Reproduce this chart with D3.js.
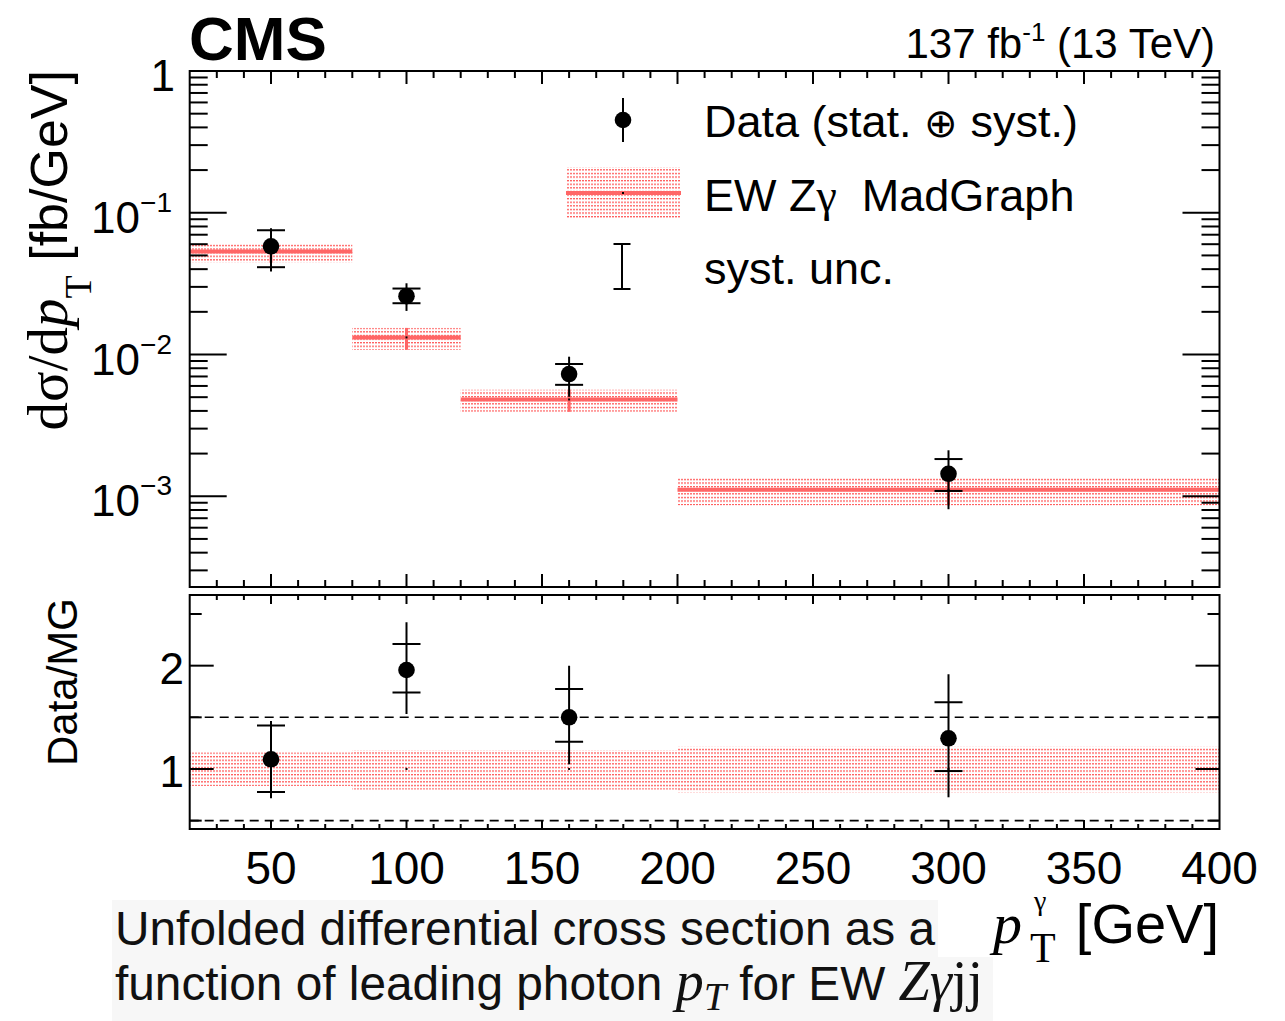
<!DOCTYPE html>
<html><head><meta charset="utf-8">
<script src="https://cdn.jsdelivr.net/npm/d3@7"></script>
<style>body{margin:0;background:#fff}</style>
</head><body>
<script>
// ---------------- data ----------------
const binEdges   = [20, 80, 120, 200, 400];
const binCenters = [50, 100, 160, 300];
const xTickLabels = [50, 100, 150, 200, 250, 300, 350, 400];
const yTickLabels = [{v:1, base:"1", exp:""}, {v:0.1, base:"10", exp:"−1"}, {v:0.01, base:"10", exp:"−2"}, {v:0.001, base:"10", exp:"−3"}];
const ratioTickLabels = [1, 2];

// measured cross section (fb/GeV)
const dataXsec   = [0.0580, 0.0258, 0.00728, 0.00144];
const dataTotUp  = [0.0776, 0.0318, 0.00965, 0.00211];
const dataTotDn  = [0.0385, 0.0203, 0.00503, 0.00081];
const dataSystUp = [0.0753, 0.0292, 0.00857, 0.00183];
const dataSystDn = [0.0413, 0.0230, 0.00611, 0.00109];
// MadGraph prediction
const mgXsec = [0.0533, 0.0132, 0.00482, 0.00111];
const mgUp   = [0.0601, 0.0154, 0.00564, 0.00135];
const mgDn   = [0.0444, 0.0108, 0.00394, 0.000863];
// ratio Data/MG
const ratio       = [1.094, 1.958, 1.500, 1.297];
const ratioTotUp  = [1.465, 2.420, 2.000, 1.917];
const ratioTotDn  = [0.716, 1.532, 1.045, 0.726];
const ratioSystUp = [1.420, 2.210, 1.775, 1.646];
const ratioSystDn = [0.777, 1.740, 1.264, 0.980];
const ratioBandUp = [1.160, 1.180, 1.180, 1.215];
const ratioBandDn = [0.835, 0.800, 0.800, 0.775];

// ---------------- setup ----------------
const W = 1285, H = 1021;
const sans = "'Liberation Sans', Arial, Helvetica, sans-serif";
const serif = "'Liberation Serif', 'Times New Roman', serif";
const RED = "#ff6666";
const svg = d3.select("body").append("svg").attr("width", W).attr("height", H)
  .style("font-family", sans);

const L = 189.7, R = 1219.5;
const T1 = 71, B1 = 587, T2 = 595, B2 = 829;
const x  = d3.scaleLinear().domain([20, 400]).range([L, R]);
const y  = d3.scaleLog().domain([2.29e-4, 1]).range([B1, T1]);
const yr = d3.scaleLinear().domain([0.419, 2.684]).range([B2, T2]);

const defs = svg.append("defs");
const pat = defs.append("pattern").attr("id", "dots").attr("patternUnits", "userSpaceOnUse")
  .attr("width", 3).attr("height", 3.6);
pat.append("rect").attr("x", 0).attr("y", 0).attr("width", 2).attr("height", 1.3).attr("fill", "#ff5c5c");
defs.append("clipPath").attr("id", "clipTop").append("rect").attr("x", L).attr("y", T1).attr("width", R - L).attr("height", B1 - T1);
defs.append("clipPath").attr("id", "clipBot").append("rect").attr("x", L).attr("y", T2).attr("width", R - L).attr("height", B2 - T2);

const idx = d3.range(binCenters.length);

// ---------------- top panel ----------------
const topG = svg.append("g").attr("clip-path", "url(#clipTop)");
topG.selectAll("rect.band").data(idx).join("rect")
  .attr("x", i => x(binEdges[i])).attr("width", i => x(binEdges[i + 1]) - x(binEdges[i]))
  .attr("y", i => y(mgUp[i])).attr("height", i => y(mgDn[i]) - y(mgUp[i]))
  .attr("fill", "url(#dots)");
topG.selectAll("line.mg").data(idx).join("line")
  .attr("x1", i => x(binEdges[i])).attr("x2", i => x(binEdges[i + 1]))
  .attr("y1", i => y(mgXsec[i])).attr("y2", i => y(mgXsec[i]))
  .attr("stroke", RED).attr("stroke-width", 4);
topG.selectAll("line.mgerr").data(idx).join("line")
  .attr("x1", i => x(binCenters[i])).attr("x2", i => x(binCenters[i]))
  .attr("y1", i => y(mgUp[i])).attr("y2", i => y(mgDn[i]))
  .attr("stroke", RED).attr("stroke-width", 3);
topG.selectAll("rect.mgc").data(idx).join("rect")
  .attr("x", i => x(binCenters[i]) - 1).attr("y", i => y(mgXsec[i]) - 1)
  .attr("width", 2).attr("height", 2).attr("fill", "#000");

function drawPoints(g, scale, val, tUp, tDn, sUp, sDn) {
  g.selectAll("line.tot").data(idx).join("line")
    .attr("x1", i => x(binCenters[i])).attr("x2", i => x(binCenters[i]))
    .attr("y1", i => scale(tUp[i])).attr("y2", i => scale(tDn[i]))
    .attr("stroke", "#000").attr("stroke-width", 2);
  [sUp, sDn].forEach(arr => {
    g.append("g").selectAll("line").data(idx).join("line")
      .attr("x1", i => x(binCenters[i]) - 14).attr("x2", i => x(binCenters[i]) + 14)
      .attr("y1", i => scale(arr[i])).attr("y2", i => scale(arr[i]))
      .attr("stroke", "#000").attr("stroke-width", 2);
  });
  g.selectAll("circle.pt").data(idx).join("circle")
    .attr("cx", i => x(binCenters[i])).attr("cy", i => scale(val[i])).attr("r", 8.3)
    .attr("fill", "#000");
}
drawPoints(svg.append("g").attr("clip-path", "url(#clipTop)"), y, dataXsec, dataTotUp, dataTotDn, dataSystUp, dataSystDn);

// ---------------- bottom panel ----------------
const botG = svg.append("g").attr("clip-path", "url(#clipBot)");
botG.selectAll("rect.band").data(idx).join("rect")
  .attr("x", i => x(binEdges[i])).attr("width", i => x(binEdges[i + 1]) - x(binEdges[i]))
  .attr("y", i => yr(ratioBandUp[i])).attr("height", i => yr(ratioBandDn[i]) - yr(ratioBandUp[i]))
  .attr("fill", "url(#dots)");
[0.5, 1.5].forEach(v => {
  botG.append("line").attr("x1", L).attr("x2", R).attr("y1", yr(v)).attr("y2", yr(v))
    .attr("stroke", "#000").attr("stroke-width", 1.6).attr("stroke-dasharray", "9,6");
});
botG.append("g").selectAll("rect").data(idx).join("rect")
  .attr("x", i => x(binCenters[i]) - 1).attr("y", yr(1) - 1).attr("width", 2).attr("height", 2).attr("fill", "#000");
drawPoints(botG.append("g"), yr, ratio, ratioTotUp, ratioTotDn, ratioSystUp, ratioSystDn);

// ---------------- frames and ticks ----------------
const axes = svg.append("g").attr("stroke", "#000").attr("stroke-width", 2).attr("fill", "none");
axes.append("rect").attr("x", L).attr("y", T1).attr("width", R - L).attr("height", B1 - T1);
axes.append("rect").attr("x", L).attr("y", T2).attr("width", R - L).attr("height", B2 - T2);

const xt = d3.range(30, 400, 10);
function xTicks(yTop, yBot, maj, min) {
  xt.forEach(v => {
    const len = v % 50 === 0 ? maj : min;
    axes.append("line").attr("x1", x(v)).attr("x2", x(v)).attr("y1", yBot).attr("y2", yBot - len);
    axes.append("line").attr("x1", x(v)).attr("x2", x(v)).attr("y1", yTop).attr("y2", yTop + len);
  });
}
xTicks(T1, B1, 13, 7);
xTicks(T2, B2, 9, 5);

const logTicks = [];
for (let d = -4; d <= 0; d++) for (let m = 1; m <= 9; m++) {
  const v = m * Math.pow(10, d);
  if (v >= 2.29e-4 && v < 1) logTicks.push({v, major: m === 1});
}
logTicks.forEach(t => {
  const len = t.major ? 37 : 18;
  axes.append("line").attr("x1", L).attr("x2", L + len).attr("y1", y(t.v)).attr("y2", y(t.v));
  axes.append("line").attr("x1", R).attr("x2", R - len).attr("y1", y(t.v)).attr("y2", y(t.v));
});
[0.5, 1, 1.5, 2, 2.5].forEach(v => {
  const len = Number.isInteger(v) ? 24 : 12;
  axes.append("line").attr("x1", L).attr("x2", L + len).attr("y1", yr(v)).attr("y2", yr(v));
  axes.append("line").attr("x1", R).attr("x2", R - len).attr("y1", yr(v)).attr("y2", yr(v));
});

// ---------------- labels ----------------
svg.append("g").selectAll("text").data(xTickLabels).join("text")
  .attr("x", d => x(d)).attr("y", 884).attr("text-anchor", "middle")
  .attr("font-size", 46).text(d => d);

yTickLabels.forEach(t => {
  const tx = svg.append("text").attr("x", t.exp ? 172 : 175).attr("y", y(t.v) + 20)
    .attr("text-anchor", "end").attr("font-size", 44);
  tx.append("tspan").text(t.base);
  if (t.exp) tx.append("tspan").attr("font-size", 28).attr("dy", -21).text(t.exp);
});
svg.append("g").selectAll("text").data(ratioTickLabels).join("text")
  .attr("x", 184).attr("y", d => yr(d) + 18).attr("text-anchor", "end")
  .attr("font-size", 44).text(d => d);

// CMS and lumi
svg.append("text").attr("x", 189).attr("y", 60).attr("font-size", 62).attr("font-weight", "bold").text("CMS");
const lumi = svg.append("text").attr("x", 1215).attr("y", 58).attr("text-anchor", "end").attr("font-size", 42);
lumi.append("tspan").text("137 fb");
lumi.append("tspan").attr("font-size", 26).attr("dy", -17).text("-1");
lumi.append("tspan").attr("dy", 17).text(" (13 TeV)");

// y titles
const yt = svg.append("text").attr("transform", "translate(67,70) rotate(-90)").attr("text-anchor", "end");
yt.append("tspan").attr("font-family", serif).attr("font-size", 57).text("dσ/d");
yt.append("tspan").attr("font-family", serif).attr("font-style", "italic").attr("font-size", 57).text("p");
yt.append("tspan").attr("font-family", serif).attr("font-size", 38).attr("dy", 24).text("T");
yt.append("tspan").attr("font-size", 52).attr("dy", -24).text(" [fb/GeV]");

svg.append("text").attr("transform", "translate(77,682) rotate(-90)").attr("text-anchor", "middle")
  .attr("font-size", 42).text("Data/MG");

// x title
svg.append("text").attr("x", 993).attr("y", 943).attr("font-family", serif).attr("font-style", "italic").attr("font-size", 58).text("p");
svg.append("text").attr("x", 1030).attr("y", 962).attr("font-family", serif).attr("font-size", 42).text("T");
svg.append("text").attr("x", 1034).attr("y", 910).attr("font-family", serif).attr("font-size", 28).text("γ");
svg.append("text").attr("x", 1219).attr("y", 943).attr("text-anchor", "end").attr("font-size", 56).text("[GeV]");

// ---------------- legend ----------------
const lg = svg.append("g");
lg.append("line").attr("x1", 623).attr("x2", 623).attr("y1", 98).attr("y2", 142).attr("stroke", "#000").attr("stroke-width", 2);
lg.append("circle").attr("cx", 623).attr("cy", 120).attr("r", 8.3).attr("fill", "#000");
lg.append("rect").attr("x", 566).attr("y", 167).attr("width", 115).attr("height", 52).attr("fill", "url(#dots)");
lg.append("line").attr("x1", 566).attr("x2", 681).attr("y1", 193).attr("y2", 193).attr("stroke", RED).attr("stroke-width", 4);
lg.append("rect").attr("x", 622).attr("y", 192).attr("width", 2).attr("height", 2).attr("fill", "#000");
lg.append("line").attr("x1", 622).attr("x2", 622).attr("y1", 244).attr("y2", 289).attr("stroke", "#000").attr("stroke-width", 2);
lg.append("rect").attr("x", 621).attr("y", 266).attr("width", 2).attr("height", 2).attr("fill", "#000");
[244, 289].forEach(v => lg.append("line").attr("x1", 613.5).attr("x2", 630.5).attr("y1", v).attr("y2", v).attr("stroke", "#000").attr("stroke-width", 2));

const t1 = lg.append("text").attr("x", 704).attr("y", 137).attr("font-size", 45);
t1.append("tspan").text("Data (stat. ");
t1.append("tspan").attr("font-family", "'DejaVu Sans', sans-serif").attr("font-weight", 200).attr("font-size", 40).text("⊕");
t1.append("tspan").text(" syst.)");
const t2 = lg.append("text").attr("x", 704).attr("y", 210.5).attr("font-size", 45).style("white-space", "pre");
t2.append("tspan").text("EW Z");
t2.append("tspan").attr("font-family", serif).attr("font-size", 46).text("γ");
t2.append("tspan").text("  MadGraph");
lg.append("text").attr("x", 704).attr("y", 284).attr("font-size", 45).text("syst. unc.");

// ---------------- caption ----------------
svg.append("rect").attr("x", 112).attr("y", 900).attr("width", 826).attr("height", 57).attr("fill", "#f7f7f7");
svg.append("rect").attr("x", 112).attr("y", 957).attr("width", 881).attr("height", 64).attr("fill", "#f7f7f7");
svg.append("text").attr("x", 115).attr("y", 945).attr("font-size", 47.8).attr("fill", "#111")
  .text("Unfolded differential cross section as a");
const c2 = svg.append("text").attr("x", 115).attr("y", 1000).attr("font-size", 47.8).attr("fill", "#111");
c2.append("tspan").text("function of leading photon ");
c2.append("tspan").attr("font-family", serif).attr("font-style", "italic").attr("font-size", 56).text("p");
c2.append("tspan").attr("font-family", serif).attr("font-style", "italic").attr("font-size", 40).attr("dy", 10).text("T");
c2.append("tspan").attr("dy", -10).text(" for EW ");
c2.append("tspan").attr("font-family", serif).attr("font-style", "italic").attr("font-size", 56).text("Zγ");
c2.append("tspan").attr("font-family", serif).attr("font-size", 56).text("jj");
</script>
</body></html>
